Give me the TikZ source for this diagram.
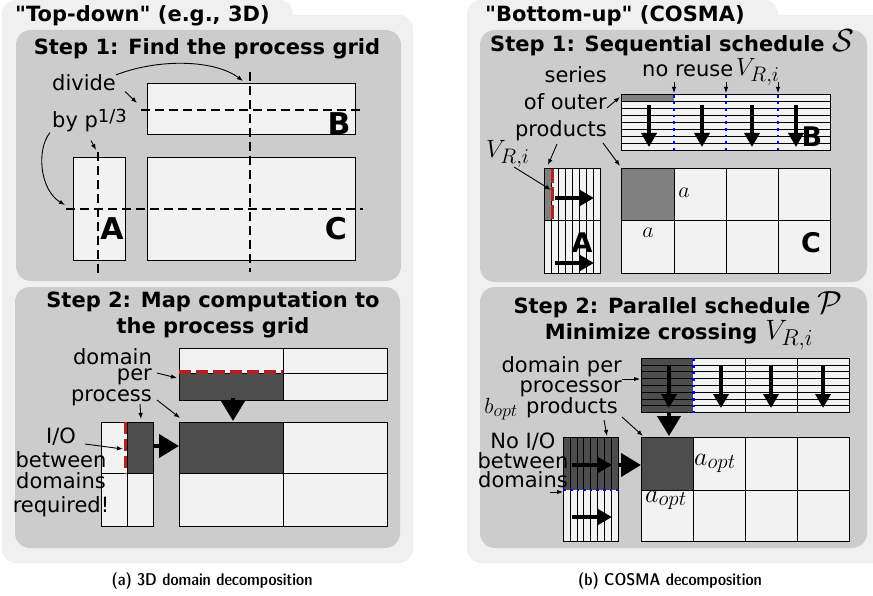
\RequirePackage{fix-cm}
\documentclass[tikz,border=0pt]{standalone}
\usepackage{fontspec}
\setmainfont{DejaVu Sans}
\newfontfamily\labelfont{DejaVu Sans}
\usetikzlibrary{arrows.meta}
\DeclareMathSizes{22}{22}{18}{14}
\DeclareMathSizes{25}{25}{21}{16}
\DeclareMathSizes{26}{26}{21}{16}
\DeclareMathSizes{28}{28}{23}{18}
\definecolor{panelbg}{HTML}{F0F0F0}
\definecolor{stepbg}{HTML}{CCCCCC}
\definecolor{cellfill}{HTML}{F2F2F2}
\definecolor{darkcell}{HTML}{4D4D4D}
\definecolor{midcell}{HTML}{808080}
\definecolor{iored}{HTML}{B22222}
\definecolor{reuseblue}{HTML}{0000FF}
\tikzset{
  lbl/.style={font=\labelfont\fontsize{21}{21}\selectfont, inner sep=0pt},
  ttl/.style={font=\labelfont\bfseries\fontsize{21}{21}\selectfont, inner sep=0pt},
  bigletter/.style={font=\labelfont\bfseries\fontsize{30}{30}\selectfont, inner sep=0pt},
  midletter/.style={font=\labelfont\bfseries\fontsize{27}{27}\selectfont, inner sep=0pt},
  capfont/.style={font=\sffamily\fontseries{sbc}\fontsize{17}{17}\selectfont, inner sep=0pt},
  panel/.style={fill=panelbg, rounded corners=14pt},
  stepbox/.style={fill=stepbg, rounded corners=15pt},
  gridline/.style={draw=black, line width=1pt},
  cutline/.style={line width=2.4pt, dash pattern=on 9pt off 5pt},
  iodash/.style={draw=iored, line width=3.2pt, dash pattern=on 12pt off 5pt},
  reusedot/.style={draw=reuseblue, line width=2.6pt, dash pattern=on 2.6pt off 4pt},
  ptr/.style={-{Latex[length=6pt,width=4.5pt]}, line width=0.9pt},
  flowarrow/.style={-{Triangle[width=15pt,length=14pt]}, line width=3.5pt},
  bigtri/.style={-{Triangle[width=23pt,length=20pt]}, line width=4pt},
}
\begin{document}
\begin{tikzpicture}[x=1pt,y=-1pt]
\useasboundingbox (0,0) rectangle (873,596);

% ---------- background panels ----------
\fill[panel] (2,0) rectangle (293,40);
\fill[panel] (2,15) rectangle (413,563);
\fill[panel] (467,0) rectangle (778,40);
\fill[panel] (467,15) rectangle (895,563);
\fill[stepbox] (16,30) rectangle (401,281);
\fill[stepbox] (15,287) rectangle (400,548);
\fill[stepbox] (480,30) rectangle (867,282);
\fill[stepbox] (480,287) rectangle (867,548);

\node[ttl, anchor=base west] (hdA) at (15,22) {"Top-down" (e.g., 3D)};
\node[ttl, anchor=base west] (hdB) at (485,22) {"Bottom-up" (COSMA)};

% ========== top-down, step 1 ==========
\node[ttl, anchor=base] (titleA1) at (207,55) {Step 1: Find the process grid};
\draw[gridline, fill=cellfill] (147.3,83.3) rectangle (355.3,135);
\draw[gridline, fill=cellfill] (147.3,157.3) rectangle (355.3,260.7);
\draw[gridline, fill=cellfill] (73.3,157.3) rectangle (125.3,260.7);
\node[bigletter, anchor=base] (letB1) at (339,135) {B};
\node[bigletter, anchor=base] (letA1) at (112,240) {A};
\node[bigletter, anchor=base] (letC1) at (336,240) {C};
\draw[cutline] (250,72) -- (250,272);
\draw[cutline] (141,110) -- (361,110);
\draw[cutline] (66,209) -- (363,209);
\draw[cutline] (97.7,152) -- (97.7,274);

\node[lbl, anchor=base west] (divide) at (52,91) {divide};
\node[lbl, anchor=base west] (byp) at (52,128) {by p\raisebox{5pt}{\fontsize{18}{18}\selectfont 1/3}};
\coordinate (vcutTop) at (243,81);
\coordinate (hcutB) at (137,103);
\coordinate (hcutC) at (65,205);
\coordinate (vcutA) at (96,150);
\draw[ptr] (divide.north east) .. controls (160,58) and (215,60) .. (vcutTop);
\draw[ptr] ([xshift=9pt]divide.south east) -- (hcutB);
\draw[ptr] ([xshift=-2pt]byp.south west) .. controls (36,150) and (40,190) .. (hcutC);
\draw[ptr] ([xshift=39pt,yshift=-8pt]byp.south west) -- (vcutA);

% ========== top-down, step 2 ==========
\node[ttl, anchor=base] (titleA2a) at (213,307) {Step 2: Map computation to};
\node[ttl, anchor=base] (titleA2b) at (213,333) {the process grid};

% B
\fill[cellfill] (179.3,348.3) rectangle (387.3,400);
\fill[darkcell] (179.3,373.7) rectangle (283.3,400);
\draw[gridline] (179.3,373.7) -- (387.3,373.7) (283.3,348.3) -- (283.3,400);
\draw[gridline] (179.3,348.3) rectangle (387.3,400);
\draw[iodash] (179.3,372) -- (283.3,372);
% C
\fill[cellfill] (179.3,422.3) rectangle (387.3,526);
\fill[darkcell] (179.3,422.3) rectangle (283.3,473.7);
\draw[gridline] (179.3,473.7) -- (387.3,473.7) (283.3,422.3) -- (283.3,526);
\draw[gridline] (179.3,422.3) rectangle (387.3,526);
% A
\fill[cellfill] (101.3,422.3) rectangle (153.3,526);
\fill[darkcell] (127.3,422.3) rectangle (153.3,473.7);
\draw[gridline] (101.3,473.7) -- (153.3,473.7) (127.3,422.3) -- (127.3,526);
\draw[gridline] (101.3,422.3) rectangle (153.3,526);
\draw[iodash] (125.5,422.3) -- (125.5,473.7);

\coordinate (BdarkBot) at (233,398);
\coordinate (CdarkTop) at (233,421);
\coordinate (AdarkR) at (154,446);
\coordinate (CdarkL) at (179,446);
\draw[bigtri] (BdarkBot) -- (CdarkTop);
\draw[bigtri] (AdarkR) -- (CdarkL);

% stacked label: domain / per / process (anchored at the last baseline)
\node[lbl, align=right, anchor=base east] (domA) at (152,401.7) {domain\\[-4.5pt]per\\[0pt]process};
\coordinate (perEnd) at (157,373);
\coordinate (procEnd) at (157,400);
\coordinate (procBelow) at (140,404);
\coordinate (BdarkEdge) at (177,378);
\coordinate (CdarkCorner) at (180,418);
\coordinate (AdarkTop) at (141,419);
\draw[ptr] (perEnd) -- (BdarkEdge);
\draw[ptr] (procEnd) -- (CdarkCorner);
\draw[ptr] (procBelow) -- (AdarkTop);

\node[lbl, align=center, anchor=base] (ioA) at (61,512) {I/O\\[3pt]between\\domains\\[3pt]required!};
\coordinate (ioStart) at (85,444);
\coordinate (ioLine) at (123,449);
\draw[ptr] (ioStart) -- (ioLine);

% ========== bottom-up, step 1 ==========
\node[ttl, anchor=base] (titleB1) at (672,52) {Step 1: Sequential schedule {\fontsize{32}{32}\selectfont$\mathcal{S}$}};

% B (rows of outer products)
\fill[cellfill] (621.7,95) rectangle (830.7,150.7);
\fill[midcell] (621.7,95) rectangle (674,101.96);
\foreach \k in {1,...,7} \draw[gridline] (621.7,95+\k*6.96) -- (830.7,95+\k*6.96);
\draw[gridline] (621.7,95) rectangle (830.7,150.7);
\foreach \x in {674,726,778} \draw[reusedot] (\x,95) -- (\x,150.7);
\foreach \x in {649,702,752,796} \draw[flowarrow] (\x,105) -- (\x,147);
\node[midletter, anchor=base] (letB2) at (812,147) {B};

% A (columns of outer products)
\fill[cellfill] (544.3,169) rectangle (600,273.3);
\fill[midcell] (544.3,169) rectangle (551.3,221);
\foreach \k in {1,...,7} \draw[gridline] (544.3+\k*6.96,169) -- (544.3+\k*6.96,273.3);
\draw[gridline] (544.3,221) -- (600,221);
\draw[gridline] (544.3,169) rectangle (600,273.3);
\draw[iodash, dash pattern=on 14pt off 4pt] (552.5,169) -- (552.5,221);
\node[midletter, anchor=base] (letA2) at (582,253) {A};
\draw[flowarrow] (555,198) -- (594,198);
\draw[flowarrow] (555,263) -- (594,263);

% C
\fill[cellfill] (621.7,169) rectangle (830.7,273.3);
\fill[midcell] (621.7,169) rectangle (674,221);
\draw[gridline] (621.7,221) -- (830.7,221);
\foreach \x in {674,726,778} \draw[gridline] (\x,169) -- (\x,273.3);
\draw[gridline] (621.7,169) rectangle (830.7,273.3);
\node[font=\fontsize{22}{22}\selectfont, inner sep=0pt, anchor=base] (aRight) at (684,198) {$a$};
\node[font=\fontsize{22}{22}\selectfont, inner sep=0pt, anchor=base] (aBelow) at (648,237) {$a$};
\node[midletter, anchor=base] (letC2) at (811,252) {C};

\node[lbl, align=right, anchor=base east] (seriesB) at (607,137) {series\\[6pt]of outer\\[6pt]products};
\node[lbl, anchor=base west] (noreuse) at (642,77) {no reuse};
\node[font=\fontsize{25}{25}\selectfont, inner sep=0pt, anchor=base west] (vriTop) at (736,76) {$V_{R,i}$};
\node[font=\fontsize{25}{25}\selectfont, inner sep=0pt, anchor=base west] (vriLeft) at (486,158) {$V_{R,i}$};

\coordinate (outerEnd) at (607,108);
\coordinate (prodLow) at (557,144);
\coordinate (prodRight) at (603,143);
\coordinate (vriEnd) at (514,167);
\coordinate (stripB) at (620,97);
\coordinate (topA) at (548,165);
\coordinate (topC) at (620,166);
\coordinate (redA) at (551,190);
\draw[ptr] (outerEnd) -- (stripB);
\draw[ptr] (prodLow) -- (topA);
\draw[ptr] (prodRight) -- (topC);
\draw[ptr] (vriEnd) -- (redA);
\foreach \x/\n in {674/r1,726/r2,778/r3} {
  \coordinate (\n) at (\x,93);
  \draw[ptr] (\x,82) -- (\n);
}

% ========== bottom-up, step 2 ==========
\node[ttl, anchor=base] (titleB2a) at (678,313) {Step 2: Parallel schedule {\fontsize{32}{32}\selectfont$\mathcal{P}$}};
\node[ttl, anchor=base] (titleB2b) at (679,339) {Minimize crossing\hspace{8pt}{\fontsize{28}{28}\selectfont$V_{R,i}$}};

% B
\fill[cellfill] (641,358.3) rectangle (849.3,412.7);
\fill[darkcell] (641,358.3) rectangle (693.3,412.7);
\foreach \k in {1,...,7} \draw[gridline] (641,358.3+\k*6.8) -- (849.3,358.3+\k*6.8);
\draw[gridline] (745,358.3) -- (745,412.7) (797.3,358.3) -- (797.3,412.7);
\draw[gridline] (641,358.3) rectangle (849.3,412.7);
\draw[reusedot] (693.3,358.3) -- (693.3,412.7);
\foreach \x in {669,721,771,823} \draw[flowarrow] (\x,366) -- (\x,408);

% C
\fill[cellfill] (641,437.7) rectangle (849.3,541);
\fill[darkcell] (641,437.7) rectangle (693.3,490);
\draw[gridline] (641,490) -- (849.3,490);
\foreach \x in {693.3,745,797.3} \draw[gridline] (\x,437.7) -- (\x,541);
\draw[gridline] (641,437.7) rectangle (849.3,541);
\node[font=\fontsize{26}{26}\selectfont, inner sep=0pt, anchor=base west] (aoptR) at (694,465) {$a_{opt}$};
\node[font=\fontsize{26}{26}\selectfont, inner sep=0pt, anchor=base west] (aoptB) at (645,502) {$a_{opt}$};

% A
\fill[cellfill] (563.3,437.7) rectangle (618.3,541);
\fill[darkcell] (563.3,437.7) rectangle (618.3,490);
\foreach \k in {1,...,7} \draw[gridline] (563.3+\k*6.875,437.7) -- (563.3+\k*6.875,541);
\draw[gridline] (563.3,437.7) rectangle (618.3,541);
\draw[reusedot] (563.3,490) -- (618.3,490);
\draw[flowarrow] (572,465) -- (612,465);
\draw[flowarrow] (572,517) -- (612,517);

\coordinate (B2bot) at (669,413);
\coordinate (C2top) at (669,436);
\coordinate (A2right) at (618,465);
\coordinate (C2left) at (641,465);
\draw[bigtri] (B2bot) -- (C2top);
\draw[bigtri] (A2right) -- (C2left);

\node[lbl, align=right, anchor=base east] (dpp) at (622,392) {domain per\\[-1pt]processor\hspace{4pt}};
\node[lbl, anchor=base east] (prod2) at (618,413) {products};
\node[font=\fontsize{22}{22}\selectfont, inner sep=0pt, anchor=base east] (bopt) at (518,413) {$b_{opt}$};
\node[lbl, align=center, anchor=base] (noio) at (523,487) {No I/O\\[-1pt]between\\[-2pt]domains};

\coordinate (procrEnd) at (622,379);
\coordinate (prodDown) at (604,420);
\coordinate (prodRight2) at (622,417);
\coordinate (domsEnd) at (550,492);
\coordinate (B2left) at (640,379);
\coordinate (A2top) at (607,436);
\coordinate (C2corner) at (643,436);
\coordinate (A2split) at (563,492);
\draw[ptr] (procrEnd) -- (B2left);
\draw[ptr] (prodDown) -- (A2top);
\draw[ptr] (prodRight2) -- (C2corner);
\draw[ptr] (domsEnd) -- (A2split);

% ---------- captions ----------
\node[capfont, anchor=base] (capA) at (212,585) {(a) 3D domain decomposition};
\node[capfont, anchor=base] (capB) at (670,585) {(b) COSMA decomposition};
\end{tikzpicture}
\end{document}
